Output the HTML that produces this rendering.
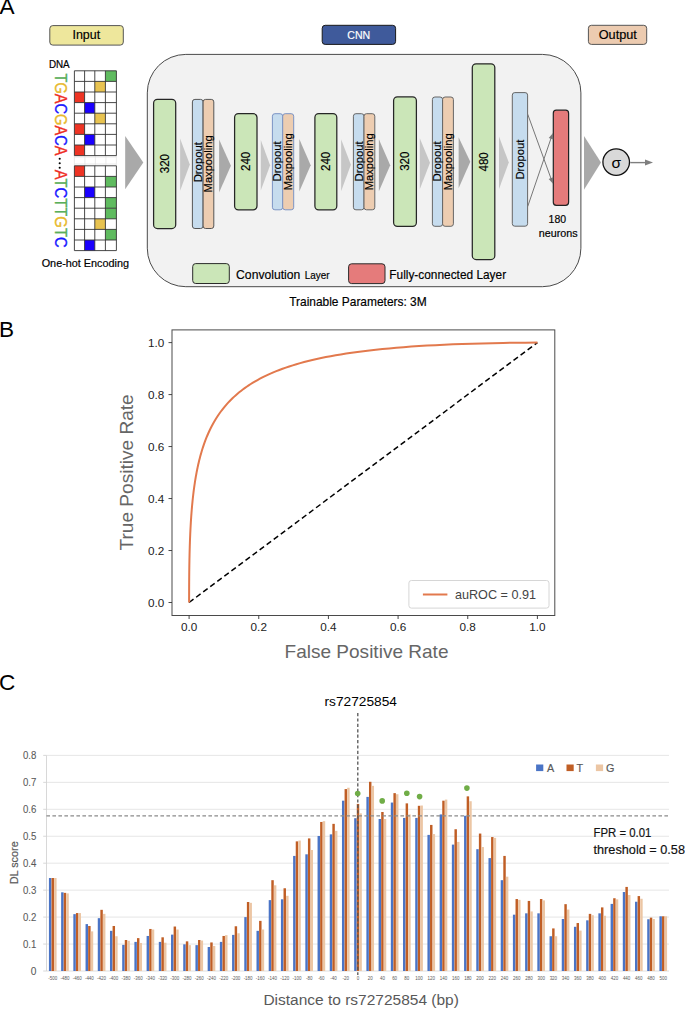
<!DOCTYPE html>
<html><head><meta charset="utf-8"><style>
html,body{margin:0;padding:0;background:#fff;}
body{width:685px;height:1009px;overflow:hidden;font-family:"Liberation Sans", sans-serif;}
svg{display:block;}
</style></head><body>
<svg width="685" height="1009" viewBox="0 0 685 1009" font-family='"Liberation Sans", sans-serif'>
<rect width="685" height="1009" fill="#fff"/>
<text x="-0.6" y="14" font-size="22.6" fill="#000" text-anchor="start" >A</text>
<rect x="49.8" y="25.6" width="73.5" height="19.5" rx="3" fill="#eee79c" stroke="#555" stroke-width="1"/>
<text x="86.3" y="39.4" font-size="12.6" fill="#000" text-anchor="middle" textLength="27.7" lengthAdjust="spacingAndGlyphs" stroke="#000" stroke-width="0.18" >Input</text>
<rect x="322.2" y="25.3" width="73.4" height="19.1" rx="3" fill="#3f5a9b" stroke="#1a1a1a" stroke-width="1"/>
<text x="358.7" y="39.0" font-size="11.5" fill="#fff" text-anchor="middle" textLength="22.9" lengthAdjust="spacingAndGlyphs" stroke="#fff" stroke-width="0.18" >CNN</text>
<rect x="588.4" y="25.3" width="58.3" height="19.1" rx="3" fill="#eccbb0" stroke="#555" stroke-width="1"/>
<text x="617.8" y="39.0" font-size="12" fill="#000" text-anchor="middle" textLength="38.1" lengthAdjust="spacingAndGlyphs" stroke="#000" stroke-width="0.18" >Output</text>
<text x="48.9" y="68.4" font-size="10.2" fill="#000" text-anchor="start" textLength="20.8" lengthAdjust="spacingAndGlyphs" stroke="#000" stroke-width="0.18" >DNA</text>
<g stroke="#e4e4e4" stroke-width="0.8"><line x1="74.40" y1="155.5" x2="74.40" y2="165.8"/><line x1="84.90" y1="155.5" x2="84.90" y2="165.8"/><line x1="95.40" y1="155.5" x2="95.40" y2="165.8"/><line x1="105.90" y1="155.5" x2="105.90" y2="165.8"/><line x1="116.40" y1="155.5" x2="116.40" y2="165.8"/><line x1="74.4" y1="157" x2="116.4" y2="157"/><line x1="74.4" y1="164" x2="116.4" y2="164"/></g>
<rect x="105.40" y="70.80" width="11.00" height="10.6" fill="#5fbb5f"/><rect x="94.80" y="81.40" width="10.60" height="10.6" fill="#e8c350"/><rect x="74.40" y="92.00" width="10.20" height="10.6" fill="#ee3424"/><rect x="84.60" y="102.60" width="10.20" height="10.6" fill="#1a00ff"/><rect x="94.80" y="113.20" width="10.60" height="10.6" fill="#e8c350"/><rect x="74.40" y="123.80" width="10.20" height="10.6" fill="#ee3424"/><rect x="84.60" y="134.40" width="10.20" height="10.6" fill="#1a00ff"/><rect x="74.40" y="145.00" width="10.20" height="10.6" fill="#ee3424"/><line x1="74.4" y1="70.80" x2="116.4" y2="70.80" stroke="#333" stroke-width="0.9"/><line x1="74.4" y1="81.40" x2="116.4" y2="81.40" stroke="#333" stroke-width="0.9"/><line x1="74.4" y1="92.00" x2="116.4" y2="92.00" stroke="#333" stroke-width="0.9"/><line x1="74.4" y1="102.60" x2="116.4" y2="102.60" stroke="#333" stroke-width="0.9"/><line x1="74.4" y1="113.20" x2="116.4" y2="113.20" stroke="#333" stroke-width="0.9"/><line x1="74.4" y1="123.80" x2="116.4" y2="123.80" stroke="#333" stroke-width="0.9"/><line x1="74.4" y1="134.40" x2="116.4" y2="134.40" stroke="#333" stroke-width="0.9"/><line x1="74.4" y1="145.00" x2="116.4" y2="145.00" stroke="#333" stroke-width="0.9"/><line x1="74.4" y1="155.60" x2="116.4" y2="155.60" stroke="#333" stroke-width="0.9"/><line x1="74.40" y1="70.8" x2="74.40" y2="155.60" stroke="#333" stroke-width="0.9"/><line x1="84.60" y1="70.8" x2="84.60" y2="155.60" stroke="#333" stroke-width="0.9"/><line x1="94.80" y1="70.8" x2="94.80" y2="155.60" stroke="#333" stroke-width="0.9"/><line x1="105.40" y1="70.8" x2="105.40" y2="155.60" stroke="#333" stroke-width="0.9"/><line x1="116.40" y1="70.8" x2="116.40" y2="155.60" stroke="#333" stroke-width="0.9"/>
<rect x="74.40" y="165.80" width="10.20" height="10.6" fill="#ee3424"/><rect x="105.40" y="176.40" width="11.00" height="10.6" fill="#5fbb5f"/><rect x="84.60" y="187.00" width="10.20" height="10.6" fill="#1a00ff"/><rect x="105.40" y="197.60" width="11.00" height="10.6" fill="#5fbb5f"/><rect x="105.40" y="208.20" width="11.00" height="10.6" fill="#5fbb5f"/><rect x="94.80" y="218.80" width="10.60" height="10.6" fill="#e8c350"/><rect x="105.40" y="229.40" width="11.00" height="10.6" fill="#5fbb5f"/><rect x="84.60" y="240.00" width="10.20" height="10.6" fill="#1a00ff"/><line x1="74.4" y1="165.80" x2="116.4" y2="165.80" stroke="#333" stroke-width="0.9"/><line x1="74.4" y1="176.40" x2="116.4" y2="176.40" stroke="#333" stroke-width="0.9"/><line x1="74.4" y1="187.00" x2="116.4" y2="187.00" stroke="#333" stroke-width="0.9"/><line x1="74.4" y1="197.60" x2="116.4" y2="197.60" stroke="#333" stroke-width="0.9"/><line x1="74.4" y1="208.20" x2="116.4" y2="208.20" stroke="#333" stroke-width="0.9"/><line x1="74.4" y1="218.80" x2="116.4" y2="218.80" stroke="#333" stroke-width="0.9"/><line x1="74.4" y1="229.40" x2="116.4" y2="229.40" stroke="#333" stroke-width="0.9"/><line x1="74.4" y1="240.00" x2="116.4" y2="240.00" stroke="#333" stroke-width="0.9"/><line x1="74.4" y1="250.60" x2="116.4" y2="250.60" stroke="#333" stroke-width="0.9"/><line x1="74.40" y1="165.8" x2="74.40" y2="250.60" stroke="#333" stroke-width="0.9"/><line x1="84.60" y1="165.8" x2="84.60" y2="250.60" stroke="#333" stroke-width="0.9"/><line x1="94.80" y1="165.8" x2="94.80" y2="250.60" stroke="#333" stroke-width="0.9"/><line x1="105.40" y1="165.8" x2="105.40" y2="250.60" stroke="#333" stroke-width="0.9"/><line x1="116.40" y1="165.8" x2="116.40" y2="250.60" stroke="#333" stroke-width="0.9"/>
<text transform="translate(55.0,73.5) rotate(90)" font-size="17.3" textLength="82.0" lengthAdjust="spacingAndGlyphs" stroke-width="0.35"><tspan fill="#5aaf5a" stroke="#5aaf5a">T</tspan><tspan fill="#e8b92c" stroke="#e8b92c">G</tspan><tspan fill="#ee2d24" stroke="#ee2d24">A</tspan><tspan fill="#1a1aff" stroke="#1a1aff">C</tspan><tspan fill="#e8b92c" stroke="#e8b92c">G</tspan><tspan fill="#ee2d24" stroke="#ee2d24">A</tspan><tspan fill="#1a1aff" stroke="#1a1aff">C</tspan><tspan fill="#ee2d24" stroke="#ee2d24">A</tspan></text>
<text transform="translate(55.0,169.7) rotate(90)" font-size="17.3" textLength="78.0" lengthAdjust="spacingAndGlyphs" stroke-width="0.35"><tspan fill="#ee2d24" stroke="#ee2d24">A</tspan><tspan fill="#5aaf5a" stroke="#5aaf5a">T</tspan><tspan fill="#1a1aff" stroke="#1a1aff">C</tspan><tspan fill="#5aaf5a" stroke="#5aaf5a">T</tspan><tspan fill="#5aaf5a" stroke="#5aaf5a">T</tspan><tspan fill="#e8b92c" stroke="#e8b92c">G</tspan><tspan fill="#5aaf5a" stroke="#5aaf5a">T</tspan><tspan fill="#1a1aff" stroke="#1a1aff">C</tspan></text>
<circle cx="59.7" cy="158.8" r="1.05" fill="#000"/>
<circle cx="59.7" cy="163.3" r="1.05" fill="#000"/>
<circle cx="59.7" cy="167.8" r="1.05" fill="#000"/>
<text x="41.7" y="267.3" font-size="10.3" fill="#000" text-anchor="start" textLength="87.3" lengthAdjust="spacingAndGlyphs" stroke="#000" stroke-width="0.18" >One-hot Encoding</text>
<polygon points="125.2,136 143.3,162.5 125.2,189.3" fill="#a9a9a9"/>
<rect x="147.3" y="54.4" width="433.6" height="232.3" rx="38.5" ry="38.5" fill="#f2f2f2" stroke="#4a4a4a" stroke-width="1"/>
<rect x="153.6" y="99.4" width="22.10" height="129.10" rx="3.8" fill="#cbe6b8" stroke="#262626" stroke-width="1.25"/>
<rect x="234.6" y="113.7" width="22.40" height="96.10" rx="3.8" fill="#cbe6b8" stroke="#262626" stroke-width="1.25"/>
<rect x="314.9" y="113.7" width="21.90" height="96.10" rx="3.8" fill="#cbe6b8" stroke="#262626" stroke-width="1.25"/>
<rect x="393.6" y="96.9" width="22.80" height="129.40" rx="3.8" fill="#cbe6b8" stroke="#262626" stroke-width="1.25"/>
<rect x="472.3" y="63.8" width="22.50" height="195.70" rx="3.8" fill="#cbe6b8" stroke="#262626" stroke-width="1.25"/>
<rect x="192.4" y="99.4" width="10.70" height="129.10" rx="2.5" fill="#c6dcee" stroke="#555" stroke-width="1"/>
<rect x="203.1" y="99.4" width="10.70" height="129.10" rx="2.5" fill="#edcdb1" stroke="#555" stroke-width="1"/>
<rect x="272.4" y="113.7" width="10.30" height="96.10" rx="2.5" fill="#c6dcee" stroke="#7b93c4" stroke-width="1"/>
<rect x="282.7" y="113.7" width="11.00" height="96.10" rx="2.5" fill="#edcdb1" stroke="#7b93c4" stroke-width="1"/>
<rect x="353.4" y="113.7" width="10.60" height="96.10" rx="2.5" fill="#c6dcee" stroke="#666" stroke-width="1"/>
<rect x="364.0" y="113.7" width="10.80" height="96.10" rx="2.5" fill="#edcdb1" stroke="#666" stroke-width="1"/>
<rect x="432.4" y="97.0" width="10.20" height="129.30" rx="2.5" fill="#c6dcee" stroke="#666" stroke-width="1"/>
<rect x="442.6" y="97.0" width="10.80" height="129.30" rx="2.5" fill="#edcdb1" stroke="#666" stroke-width="1"/>
<rect x="512.3" y="92.6" width="15.30" height="133.60" rx="2.5" fill="#c6dcee" stroke="#666" stroke-width="1"/>
<rect x="553.3" y="110.2" width="15.30" height="95.10" rx="3" fill="#e57b7b" stroke="#222" stroke-width="1.2"/>
<text transform="translate(164.6,163.6) rotate(-90)" x="0" y="0" dy="0.35em" font-size="12.6" fill="#000" text-anchor="middle" textLength="19.2" lengthAdjust="spacingAndGlyphs" stroke="#000" stroke-width="0.18">320</text>
<text transform="translate(245.8,161.4) rotate(-90)" x="0" y="0" dy="0.35em" font-size="12.6" fill="#000" text-anchor="middle" textLength="19.2" lengthAdjust="spacingAndGlyphs" stroke="#000" stroke-width="0.18">240</text>
<text transform="translate(325.9,161.4) rotate(-90)" x="0" y="0" dy="0.35em" font-size="12.6" fill="#000" text-anchor="middle" textLength="19.2" lengthAdjust="spacingAndGlyphs" stroke="#000" stroke-width="0.18">240</text>
<text transform="translate(405.0,161.2) rotate(-90)" x="0" y="0" dy="0.35em" font-size="12.6" fill="#000" text-anchor="middle" textLength="19.2" lengthAdjust="spacingAndGlyphs" stroke="#000" stroke-width="0.18">320</text>
<text transform="translate(483.5,161.9) rotate(-90)" x="0" y="0" dy="0.35em" font-size="12.6" fill="#000" text-anchor="middle" textLength="19.2" lengthAdjust="spacingAndGlyphs" stroke="#000" stroke-width="0.18">480</text>
<text transform="translate(197.8,162.2) rotate(-90)" x="0" y="0" dy="0.35em" font-size="11" fill="#000" text-anchor="middle" textLength="40.3" lengthAdjust="spacingAndGlyphs" stroke="#000" stroke-width="0.18">Dropout</text>
<text transform="translate(208.5,163.9) rotate(-90)" x="0" y="0" dy="0.35em" font-size="11" fill="#000" text-anchor="middle" textLength="57.0" lengthAdjust="spacingAndGlyphs" stroke="#000" stroke-width="0.18">Maxpooling</text>
<text transform="translate(277.6,161.4) rotate(-90)" x="0" y="0" dy="0.35em" font-size="11" fill="#000" text-anchor="middle" textLength="40.3" lengthAdjust="spacingAndGlyphs" stroke="#000" stroke-width="0.18">Dropout</text>
<text transform="translate(288.2,161.8) rotate(-90)" x="0" y="0" dy="0.35em" font-size="11" fill="#000" text-anchor="middle" textLength="57.0" lengthAdjust="spacingAndGlyphs" stroke="#000" stroke-width="0.18">Maxpooling</text>
<text transform="translate(358.7,161.4) rotate(-90)" x="0" y="0" dy="0.35em" font-size="11" fill="#000" text-anchor="middle" textLength="40.3" lengthAdjust="spacingAndGlyphs" stroke="#000" stroke-width="0.18">Dropout</text>
<text transform="translate(369.4,161.8) rotate(-90)" x="0" y="0" dy="0.35em" font-size="11" fill="#000" text-anchor="middle" textLength="57.0" lengthAdjust="spacingAndGlyphs" stroke="#000" stroke-width="0.18">Maxpooling</text>
<text transform="translate(437.5,161.4) rotate(-90)" x="0" y="0" dy="0.35em" font-size="11" fill="#000" text-anchor="middle" textLength="40.3" lengthAdjust="spacingAndGlyphs" stroke="#000" stroke-width="0.18">Dropout</text>
<text transform="translate(448.0,161.8) rotate(-90)" x="0" y="0" dy="0.35em" font-size="11" fill="#000" text-anchor="middle" textLength="57.0" lengthAdjust="spacingAndGlyphs" stroke="#000" stroke-width="0.18">Maxpooling</text>
<text transform="translate(520.0,159.6) rotate(-90)" x="0" y="0" dy="0.35em" font-size="11" fill="#000" text-anchor="middle" textLength="39.9" lengthAdjust="spacingAndGlyphs" stroke="#000" stroke-width="0.18">Dropout</text>
<polygon points="180.1,138.4 189.8,164.5 180.1,190.8" fill="#c6c6c6"/>
<polygon points="219.1,139.5 230.9,165.8 219.1,192.4" fill="#a9a9a9"/>
<polygon points="260.8,140.0 270.1,165.2 260.8,190.5" fill="#c6c6c6"/>
<polygon points="299.3,138.9 310.7,165.2 299.3,191.5" fill="#a9a9a9"/>
<polygon points="341.1,139.2 350.9,164.7 341.1,191.3" fill="#c6c6c6"/>
<polygon points="378.9,139.2 390.2,165.2 378.9,191.3" fill="#a9a9a9"/>
<polygon points="419.8,138.2 430.0,162.7 419.8,189.3" fill="#c6c6c6"/>
<polygon points="458.6,137.2 470.3,161.7 458.6,188.2" fill="#a9a9a9"/>
<polygon points="499.0,136.6 508.8,162.6 499.0,189.0" fill="#c6c6c6"/>
<g stroke="#777" stroke-width="1" fill="#777">
<line x1="527.7" y1="114.2" x2="551.6" y2="180.2"/><line x1="527.7" y1="206.5" x2="551.6" y2="136.6"/>
</g>
<polygon points="553.00,183.70 548.69,178.88 553.20,177.24" fill="#777"/>
<polygon points="553.00,133.00 553.32,139.45 548.78,137.89" fill="#777"/>
<text x="557.3" y="222.7" font-size="10.5" fill="#000" text-anchor="middle" textLength="17.5" lengthAdjust="spacingAndGlyphs" stroke="#000" stroke-width="0.18" >180</text>
<text x="558.2" y="236.7" font-size="10.5" fill="#000" text-anchor="middle" textLength="38.9" lengthAdjust="spacingAndGlyphs" stroke="#000" stroke-width="0.18" >neurons</text>
<polygon points="584.0,136.0 601.0,162.5 584.0,189.8" fill="#a9a9a9"/>
<circle cx="616.2" cy="162.1" r="13.3" fill="#d9d9d9" stroke="#111" stroke-width="1.3"/>
<text x="616.3" y="168.2" font-size="15.5" fill="#000" text-anchor="middle" >σ</text>
<line x1="630.2" y1="162.6" x2="647" y2="162.6" stroke="#7f7f7f" stroke-width="1.4"/>
<polygon points="653,162.6 645,159.6 645,165.6" fill="#7f7f7f"/>
<rect x="192.7" y="263.6" width="36.60" height="19.90" rx="3" fill="#cbe6b8" stroke="#2b2b2b" stroke-width="1"/>
<text x="236.1" y="278.9" font-size="13" fill="#000" text-anchor="start" textLength="64.2" lengthAdjust="spacingAndGlyphs" stroke="#000" stroke-width="0.18" >Convolution</text>
<text x="304.7" y="278.9" font-size="10.6" fill="#000" text-anchor="start" textLength="24.8" lengthAdjust="spacingAndGlyphs" stroke="#000" stroke-width="0.18" >Layer</text>
<rect x="348.6" y="263.8" width="36.40" height="19.80" rx="3" fill="#e57b7b" stroke="#2b2b2b" stroke-width="1"/>
<text x="389.3" y="279.0" font-size="13" fill="#000" text-anchor="start" textLength="116.8" lengthAdjust="spacingAndGlyphs" stroke="#000" stroke-width="0.18" >Fully-connected Layer</text>
<text x="289.2" y="306.1" font-size="12.2" fill="#000" text-anchor="start" textLength="137.5" lengthAdjust="spacingAndGlyphs" stroke="#000" stroke-width="0.18" >Trainable Parameters: 3M</text>
<text x="-0.9" y="336.6" font-size="22.6" fill="#000" text-anchor="start" >B</text>
<line x1="189.1" y1="602.5" x2="537.4" y2="342.6" stroke="#000" stroke-width="1.5" stroke-dasharray="5.5,3.3"/>
<polyline points="189.10,602.50 189.10,600.79 189.10,600.76 189.10,600.73 189.10,600.69 189.10,600.66 189.10,600.63 189.10,600.59 189.10,600.56 189.10,600.53 189.10,600.49 189.10,600.45 189.10,600.42 189.10,600.38 189.10,600.34 189.10,600.30 189.10,600.27 189.10,600.23 189.10,600.19 189.10,600.14 189.10,600.10 189.10,600.06 189.10,600.02 189.10,599.97 189.10,599.93 189.10,599.88 189.10,599.84 189.10,599.79 189.10,599.74 189.10,599.69 189.10,599.64 189.10,599.59 189.10,599.54 189.10,599.49 189.10,599.44 189.10,599.38 189.10,599.33 189.10,599.27 189.10,599.22 189.10,599.16 189.10,599.10 189.10,599.04 189.10,598.98 189.10,598.92 189.10,598.86 189.10,598.80 189.10,598.73 189.10,598.67 189.10,598.60 189.10,598.53 189.10,598.46 189.10,598.39 189.10,598.32 189.10,598.25 189.10,598.18 189.10,598.10 189.10,598.03 189.10,597.95 189.10,597.87 189.10,597.79 189.10,597.71 189.10,597.63 189.10,597.55 189.10,597.46 189.10,597.38 189.10,597.29 189.10,597.20 189.10,597.11 189.10,597.02 189.10,596.92 189.10,596.83 189.10,596.73 189.10,596.63 189.10,596.54 189.10,596.43 189.10,596.33 189.10,596.23 189.10,596.12 189.11,596.01 189.11,595.90 189.11,595.79 189.11,595.68 189.11,595.57 189.11,595.45 189.11,595.33 189.11,595.21 189.11,595.09 189.11,594.97 189.11,594.84 189.11,594.71 189.11,594.58 189.11,594.45 189.11,594.32 189.11,594.18 189.11,594.04 189.11,593.90 189.11,593.76 189.11,593.62 189.11,593.47 189.11,593.32 189.11,593.17 189.11,593.02 189.11,592.86 189.11,592.70 189.11,592.54 189.11,592.38 189.11,592.21 189.11,592.04 189.11,591.87 189.11,591.70 189.12,591.52 189.12,591.35 189.12,591.16 189.12,590.98 189.12,590.79 189.12,590.60 189.12,590.41 189.12,590.22 189.12,590.02 189.12,589.82 189.12,589.61 189.12,589.41 189.12,589.20 189.12,588.98 189.12,588.77 189.13,588.55 189.13,588.32 189.13,588.10 189.13,587.87 189.13,587.64 189.13,587.40 189.13,587.16 189.13,586.92 189.13,586.67 189.13,586.42 189.14,586.17 189.14,585.91 189.14,585.65 189.14,585.38 189.14,585.11 189.14,584.84 189.14,584.57 189.15,584.29 189.15,584.00 189.15,583.71 189.15,583.42 189.15,583.12 189.15,582.82 189.16,582.52 189.16,582.21 189.16,581.90 189.16,581.58 189.16,581.26 189.17,580.93 189.17,580.60 189.17,580.26 189.17,579.92 189.18,579.58 189.18,579.23 189.18,578.87 189.19,578.51 189.19,578.15 189.19,577.78 189.20,577.41 189.20,577.03 189.20,576.64 189.21,576.25 189.21,575.86 189.21,575.46 189.22,575.05 189.22,574.64 189.23,574.23 189.23,573.80 189.23,573.38 189.24,572.94 189.24,572.50 189.25,572.06 189.25,571.61 189.26,571.16 189.27,570.69 189.27,570.23 189.28,569.75 189.28,569.27 189.29,568.79 189.30,568.29 189.30,567.80 189.31,567.29 189.32,566.78 189.33,566.26 189.33,565.74 189.34,565.21 189.35,564.67 189.36,564.13 189.37,563.58 189.38,563.02 189.39,562.46 189.40,561.89 189.41,561.31 189.42,560.72 189.43,560.13 189.44,559.53 189.45,558.93 189.47,558.31 189.48,557.69 189.49,557.07 189.51,556.43 189.52,555.79 189.54,555.14 189.55,554.48 189.57,553.81 189.58,553.14 189.60,552.46 189.62,551.77 189.64,551.07 189.66,550.37 189.68,549.66 189.70,548.94 189.72,548.21 189.74,547.47 189.76,546.73 189.78,545.97 189.81,545.21 189.83,544.44 189.86,543.66 189.89,542.88 189.91,542.08 189.94,541.28 189.97,540.47 190.00,539.65 190.03,538.82 190.07,537.98 190.10,537.13 190.14,536.28 190.17,535.41 190.21,534.54 190.25,533.66 190.29,532.77 190.33,531.87 190.38,530.96 190.42,530.04 190.47,529.12 190.52,528.18 190.57,527.24 190.62,526.28 190.67,525.32 190.73,524.35 190.78,523.37 190.84,522.38 190.90,521.38 190.97,520.37 191.03,519.35 191.10,518.32 191.17,517.29 191.24,516.24 191.32,515.19 191.40,514.12 191.48,513.05 191.56,511.97 191.65,510.88 191.74,509.78 191.83,508.67 191.93,507.55 192.03,506.42 192.13,505.28 192.24,504.13 192.35,502.98 192.46,501.81 192.58,500.64 192.71,499.46 192.83,498.27 192.96,497.07 193.10,495.86 193.24,494.64 193.39,493.41 193.54,492.17 193.69,490.93 193.86,489.68 194.02,488.41 194.20,487.14 194.38,485.87 194.56,484.58 194.76,483.28 194.95,481.98 195.16,480.67 195.37,479.35 195.60,478.02 195.82,476.69 196.06,475.35 196.31,473.99 196.56,472.64 196.82,471.27 197.10,469.90 197.38,468.52 197.67,467.14 197.97,465.74 198.28,464.34 198.61,462.94 198.94,461.53 199.29,460.11 199.65,458.68 200.02,457.25 200.40,455.82 200.80,454.38 201.21,452.93 201.64,451.48 202.08,450.02 202.54,448.56 203.01,447.10 203.50,445.63 204.01,444.15 204.54,442.68 205.08,441.20 205.64,439.71 206.23,438.22 206.83,436.73 207.46,435.24 208.10,433.75 208.77,432.25 209.46,430.75 210.18,429.25 210.92,427.75 211.69,426.25 212.49,424.75 213.31,423.25 214.17,421.75 215.05,420.25 215.96,418.75 216.91,417.25 217.89,415.75 218.90,414.26 219.95,412.76 221.04,411.27 222.17,409.78 223.33,408.30 224.54,406.82 225.79,405.35 227.08,403.87 228.42,402.41 229.80,400.95 231.24,399.49 232.72,398.05 234.26,396.61 235.85,395.17 237.50,393.75 239.20,392.33 240.97,390.92 242.79,389.52 244.69,388.13 246.64,386.75 248.67,385.38 250.77,384.02 252.94,382.67 255.19,381.34 257.52,380.02 259.93,378.71 262.43,377.41 265.01,376.13 267.68,374.87 270.45,373.62 273.32,372.38 276.29,371.17 279.36,369.97 282.54,368.78 285.83,367.62 289.24,366.47 292.77,365.35 296.42,364.24 300.20,363.15 304.11,362.09 308.17,361.04 312.36,360.02 316.70,359.02 321.20,358.05 325.85,357.10 330.67,356.17 335.66,355.27 340.82,354.39 346.17,353.54 351.70,352.72 357.43,351.92 363.36,351.16 369.50,350.42 375.86,349.71 382.44,349.03 389.25,348.38 396.30,347.76 403.60,347.17 411.16,346.62 418.98,346.09 427.08,345.60 435.46,345.14 444.14,344.72 453.13,344.33 462.43,343.98 472.06,343.66 482.03,343.38 492.35,343.14 503.04,342.94 514.10,342.78 525.55,342.66 537.40,342.60" fill="none" stroke="#e2794d" stroke-width="2"/>
<rect x="172.0" y="329.9" width="382.8" height="285.6" fill="none" stroke="#4a4a4a" stroke-width="1"/>
<line x1="168.5" y1="602.50" x2="172" y2="602.50" stroke="#333" stroke-width="0.9"/>
<line x1="189.10" y1="615.5" x2="189.10" y2="619" stroke="#333" stroke-width="0.9"/>
<text x="164.2" y="606.6" font-size="10.3" fill="#222" text-anchor="end" textLength="16.3" lengthAdjust="spacingAndGlyphs" >0.0</text>
<text x="189.1" y="631.2" font-size="10.3" fill="#222" text-anchor="middle" textLength="16.3" lengthAdjust="spacingAndGlyphs" >0.0</text>
<line x1="168.5" y1="550.52" x2="172" y2="550.52" stroke="#333" stroke-width="0.9"/>
<line x1="258.76" y1="615.5" x2="258.76" y2="619" stroke="#333" stroke-width="0.9"/>
<text x="164.2" y="554.62" font-size="10.3" fill="#222" text-anchor="end" textLength="16.3" lengthAdjust="spacingAndGlyphs" >0.2</text>
<text x="258.76" y="631.2" font-size="10.3" fill="#222" text-anchor="middle" textLength="16.3" lengthAdjust="spacingAndGlyphs" >0.2</text>
<line x1="168.5" y1="498.54" x2="172" y2="498.54" stroke="#333" stroke-width="0.9"/>
<line x1="328.42" y1="615.5" x2="328.42" y2="619" stroke="#333" stroke-width="0.9"/>
<text x="164.2" y="502.64000000000004" font-size="10.3" fill="#222" text-anchor="end" textLength="16.3" lengthAdjust="spacingAndGlyphs" >0.4</text>
<text x="328.42" y="631.2" font-size="10.3" fill="#222" text-anchor="middle" textLength="16.3" lengthAdjust="spacingAndGlyphs" >0.4</text>
<line x1="168.5" y1="446.56" x2="172" y2="446.56" stroke="#333" stroke-width="0.9"/>
<line x1="398.08" y1="615.5" x2="398.08" y2="619" stroke="#333" stroke-width="0.9"/>
<text x="164.2" y="450.66" font-size="10.3" fill="#222" text-anchor="end" textLength="16.3" lengthAdjust="spacingAndGlyphs" >0.6</text>
<text x="398.08000000000004" y="631.2" font-size="10.3" fill="#222" text-anchor="middle" textLength="16.3" lengthAdjust="spacingAndGlyphs" >0.6</text>
<line x1="168.5" y1="394.58" x2="172" y2="394.58" stroke="#333" stroke-width="0.9"/>
<line x1="467.74" y1="615.5" x2="467.74" y2="619" stroke="#333" stroke-width="0.9"/>
<text x="164.2" y="398.68000000000006" font-size="10.3" fill="#222" text-anchor="end" textLength="16.3" lengthAdjust="spacingAndGlyphs" >0.8</text>
<text x="467.74" y="631.2" font-size="10.3" fill="#222" text-anchor="middle" textLength="16.3" lengthAdjust="spacingAndGlyphs" >0.8</text>
<line x1="168.5" y1="342.60" x2="172" y2="342.60" stroke="#333" stroke-width="0.9"/>
<line x1="537.40" y1="615.5" x2="537.40" y2="619" stroke="#333" stroke-width="0.9"/>
<text x="164.2" y="346.70000000000005" font-size="10.3" fill="#222" text-anchor="end" textLength="16.3" lengthAdjust="spacingAndGlyphs" >1.0</text>
<text x="537.4" y="631.2" font-size="10.3" fill="#222" text-anchor="middle" textLength="16.3" lengthAdjust="spacingAndGlyphs" >1.0</text>
<text x="366.5" y="658.0" font-size="19" fill="#666" text-anchor="middle" textLength="164" lengthAdjust="spacingAndGlyphs" >False Positive Rate</text>
<text transform="translate(133.0,472.4) rotate(-90)" x="0" y="0" dy="0em" font-size="19" fill="#666" text-anchor="middle" textLength="156.2" lengthAdjust="spacingAndGlyphs">True Positive Rate</text>
<rect x="408.9" y="580.5" width="140.1" height="27.6" rx="2.5" fill="#fff" fill-opacity="0.8" stroke="#d6d6d6" stroke-width="1"/>
<line x1="422.9" y1="594.5" x2="447.4" y2="594.5" stroke="#e2794d" stroke-width="2"/>
<text x="454.9" y="598.8" font-size="12.6" fill="#444" text-anchor="start" textLength="81.1" lengthAdjust="spacingAndGlyphs" >auROC = 0.91</text>
<text x="-1.1" y="689.9" font-size="22.6" fill="#000" text-anchor="start" >C</text>
<text x="360.7" y="705.8" font-size="13.6" fill="#000" text-anchor="middle" textLength="72.4" lengthAdjust="spacingAndGlyphs" >rs72725854</text>
<line x1="46.4" y1="944.05" x2="669" y2="944.05" stroke="#e3e3e3" stroke-width="0.9"/>
<line x1="46.4" y1="917.10" x2="669" y2="917.10" stroke="#e3e3e3" stroke-width="0.9"/>
<line x1="46.4" y1="890.15" x2="669" y2="890.15" stroke="#e3e3e3" stroke-width="0.9"/>
<line x1="46.4" y1="863.20" x2="669" y2="863.20" stroke="#e3e3e3" stroke-width="0.9"/>
<line x1="46.4" y1="836.25" x2="669" y2="836.25" stroke="#e3e3e3" stroke-width="0.9"/>
<line x1="46.4" y1="809.30" x2="669" y2="809.30" stroke="#e3e3e3" stroke-width="0.9"/>
<line x1="46.4" y1="782.35" x2="669" y2="782.35" stroke="#e3e3e3" stroke-width="0.9"/>
<line x1="46.4" y1="755.40" x2="669" y2="755.40" stroke="#e3e3e3" stroke-width="0.9"/>
<line x1="46.4" y1="971.0" x2="669" y2="971.0" stroke="#dadada" stroke-width="0.9"/>
<line x1="46.5" y1="755.40" x2="46.5" y2="971.0" stroke="#d4d4d4" stroke-width="0.9"/>
<line x1="43.2" y1="971.00" x2="46.5" y2="971.00" stroke="#d4d4d4" stroke-width="0.9"/>
<text x="36.3" y="974.6" font-size="10.2" fill="#595959" text-anchor="end" stroke="#595959" stroke-width="0.08" >0</text>
<line x1="43.2" y1="944.05" x2="46.5" y2="944.05" stroke="#d4d4d4" stroke-width="0.9"/>
<text x="36.3" y="947.65" font-size="10.2" fill="#595959" text-anchor="end" textLength="13.4" lengthAdjust="spacingAndGlyphs" stroke="#595959" stroke-width="0.08" >0.1</text>
<line x1="43.2" y1="917.10" x2="46.5" y2="917.10" stroke="#d4d4d4" stroke-width="0.9"/>
<text x="36.3" y="920.7" font-size="10.2" fill="#595959" text-anchor="end" textLength="13.4" lengthAdjust="spacingAndGlyphs" stroke="#595959" stroke-width="0.08" >0.2</text>
<line x1="43.2" y1="890.15" x2="46.5" y2="890.15" stroke="#d4d4d4" stroke-width="0.9"/>
<text x="36.3" y="893.75" font-size="10.2" fill="#595959" text-anchor="end" textLength="13.4" lengthAdjust="spacingAndGlyphs" stroke="#595959" stroke-width="0.08" >0.3</text>
<line x1="43.2" y1="863.20" x2="46.5" y2="863.20" stroke="#d4d4d4" stroke-width="0.9"/>
<text x="36.3" y="866.8000000000001" font-size="10.2" fill="#595959" text-anchor="end" textLength="13.4" lengthAdjust="spacingAndGlyphs" stroke="#595959" stroke-width="0.08" >0.4</text>
<line x1="43.2" y1="836.25" x2="46.5" y2="836.25" stroke="#d4d4d4" stroke-width="0.9"/>
<text x="36.3" y="839.85" font-size="10.2" fill="#595959" text-anchor="end" textLength="13.4" lengthAdjust="spacingAndGlyphs" stroke="#595959" stroke-width="0.08" >0.5</text>
<line x1="43.2" y1="809.30" x2="46.5" y2="809.30" stroke="#d4d4d4" stroke-width="0.9"/>
<text x="36.3" y="812.9" font-size="10.2" fill="#595959" text-anchor="end" textLength="13.4" lengthAdjust="spacingAndGlyphs" stroke="#595959" stroke-width="0.08" >0.6</text>
<line x1="43.2" y1="782.35" x2="46.5" y2="782.35" stroke="#d4d4d4" stroke-width="0.9"/>
<text x="36.3" y="785.95" font-size="10.2" fill="#595959" text-anchor="end" textLength="13.4" lengthAdjust="spacingAndGlyphs" stroke="#595959" stroke-width="0.08" >0.7</text>
<line x1="43.2" y1="755.40" x2="46.5" y2="755.40" stroke="#d4d4d4" stroke-width="0.9"/>
<text x="36.3" y="759.0" font-size="10.2" fill="#595959" text-anchor="end" textLength="13.4" lengthAdjust="spacingAndGlyphs" stroke="#595959" stroke-width="0.08" >0.8</text>
<rect x="48.93" y="878.02" width="2.45" height="92.98" fill="#4a74c6"/>
<rect x="51.53" y="878.02" width="2.45" height="92.98" fill="#c05e25"/>
<rect x="54.13" y="878.02" width="2.45" height="92.98" fill="#ecc6a4"/>
<text x="52.75" y="979.8" font-size="5.6" fill="#595959" text-anchor="middle" textLength="8.96" lengthAdjust="spacingAndGlyphs" >-500</text>
<rect x="61.14" y="892.31" width="2.45" height="78.69" fill="#4a74c6"/>
<rect x="63.74" y="892.85" width="2.45" height="78.15" fill="#c05e25"/>
<rect x="66.34" y="893.38" width="2.45" height="77.62" fill="#ecc6a4"/>
<text x="64.96" y="979.8" font-size="5.6" fill="#595959" text-anchor="middle" textLength="8.96" lengthAdjust="spacingAndGlyphs" >-480</text>
<rect x="73.34" y="914.14" width="2.45" height="56.86" fill="#4a74c6"/>
<rect x="75.94" y="913.06" width="2.45" height="57.94" fill="#c05e25"/>
<rect x="78.55" y="913.06" width="2.45" height="57.94" fill="#ecc6a4"/>
<text x="77.17" y="979.8" font-size="5.6" fill="#595959" text-anchor="middle" textLength="8.96" lengthAdjust="spacingAndGlyphs" >-460</text>
<rect x="85.55" y="924.11" width="2.45" height="46.89" fill="#4a74c6"/>
<rect x="88.15" y="925.99" width="2.45" height="45.01" fill="#c05e25"/>
<rect x="90.75" y="931.38" width="2.45" height="39.62" fill="#ecc6a4"/>
<text x="89.38" y="979.8" font-size="5.6" fill="#595959" text-anchor="middle" textLength="8.96" lengthAdjust="spacingAndGlyphs" >-440</text>
<rect x="97.77" y="918.18" width="2.45" height="52.82" fill="#4a74c6"/>
<rect x="100.36" y="909.82" width="2.45" height="61.18" fill="#c05e25"/>
<rect x="102.97" y="913.87" width="2.45" height="57.13" fill="#ecc6a4"/>
<text x="101.59" y="979.8" font-size="5.6" fill="#595959" text-anchor="middle" textLength="8.96" lengthAdjust="spacingAndGlyphs" >-420</text>
<rect x="109.98" y="930.84" width="2.45" height="40.16" fill="#4a74c6"/>
<rect x="112.58" y="925.99" width="2.45" height="45.01" fill="#c05e25"/>
<rect x="115.18" y="936.23" width="2.45" height="34.77" fill="#ecc6a4"/>
<text x="113.80" y="979.8" font-size="5.6" fill="#595959" text-anchor="middle" textLength="8.96" lengthAdjust="spacingAndGlyphs" >-400</text>
<rect x="122.19" y="944.86" width="2.45" height="26.14" fill="#4a74c6"/>
<rect x="124.78" y="940.01" width="2.45" height="30.99" fill="#c05e25"/>
<rect x="127.39" y="940.82" width="2.45" height="30.18" fill="#ecc6a4"/>
<text x="126.01" y="979.8" font-size="5.6" fill="#595959" text-anchor="middle" textLength="8.96" lengthAdjust="spacingAndGlyphs" >-380</text>
<rect x="134.39" y="941.89" width="2.45" height="29.11" fill="#4a74c6"/>
<rect x="136.99" y="938.12" width="2.45" height="32.88" fill="#c05e25"/>
<rect x="139.59" y="942.97" width="2.45" height="28.03" fill="#ecc6a4"/>
<text x="138.22" y="979.8" font-size="5.6" fill="#595959" text-anchor="middle" textLength="8.96" lengthAdjust="spacingAndGlyphs" >-360</text>
<rect x="146.60" y="935.97" width="2.45" height="35.03" fill="#4a74c6"/>
<rect x="149.20" y="928.96" width="2.45" height="42.04" fill="#c05e25"/>
<rect x="151.80" y="929.50" width="2.45" height="41.50" fill="#ecc6a4"/>
<text x="150.43" y="979.8" font-size="5.6" fill="#595959" text-anchor="middle" textLength="8.96" lengthAdjust="spacingAndGlyphs" >-340</text>
<rect x="158.81" y="941.89" width="2.45" height="29.11" fill="#4a74c6"/>
<rect x="161.41" y="937.31" width="2.45" height="33.69" fill="#c05e25"/>
<rect x="164.01" y="942.70" width="2.45" height="28.30" fill="#ecc6a4"/>
<text x="162.64" y="979.8" font-size="5.6" fill="#595959" text-anchor="middle" textLength="8.96" lengthAdjust="spacingAndGlyphs" >-320</text>
<rect x="171.03" y="934.62" width="2.45" height="36.38" fill="#4a74c6"/>
<rect x="173.62" y="926.53" width="2.45" height="44.47" fill="#c05e25"/>
<rect x="176.22" y="929.50" width="2.45" height="41.50" fill="#ecc6a4"/>
<text x="174.85" y="979.8" font-size="5.6" fill="#595959" text-anchor="middle" textLength="8.96" lengthAdjust="spacingAndGlyphs" >-300</text>
<rect x="183.23" y="944.32" width="2.45" height="26.68" fill="#4a74c6"/>
<rect x="185.83" y="941.36" width="2.45" height="29.64" fill="#c05e25"/>
<rect x="188.43" y="945.13" width="2.45" height="25.87" fill="#ecc6a4"/>
<text x="187.06" y="979.8" font-size="5.6" fill="#595959" text-anchor="middle" textLength="8.96" lengthAdjust="spacingAndGlyphs" >-280</text>
<rect x="195.44" y="945.13" width="2.45" height="25.87" fill="#4a74c6"/>
<rect x="198.04" y="940.01" width="2.45" height="30.99" fill="#c05e25"/>
<rect x="200.64" y="940.55" width="2.45" height="30.45" fill="#ecc6a4"/>
<text x="199.27" y="979.8" font-size="5.6" fill="#595959" text-anchor="middle" textLength="8.96" lengthAdjust="spacingAndGlyphs" >-260</text>
<rect x="207.66" y="947.01" width="2.45" height="23.99" fill="#4a74c6"/>
<rect x="210.25" y="942.43" width="2.45" height="28.57" fill="#c05e25"/>
<rect x="212.85" y="945.94" width="2.45" height="25.06" fill="#ecc6a4"/>
<text x="211.48" y="979.8" font-size="5.6" fill="#595959" text-anchor="middle" textLength="8.96" lengthAdjust="spacingAndGlyphs" >-240</text>
<rect x="219.86" y="941.89" width="2.45" height="29.11" fill="#4a74c6"/>
<rect x="222.46" y="935.97" width="2.45" height="35.03" fill="#c05e25"/>
<rect x="225.06" y="935.16" width="2.45" height="35.84" fill="#ecc6a4"/>
<text x="223.69" y="979.8" font-size="5.6" fill="#595959" text-anchor="middle" textLength="8.96" lengthAdjust="spacingAndGlyphs" >-220</text>
<rect x="232.07" y="934.89" width="2.45" height="36.11" fill="#4a74c6"/>
<rect x="234.67" y="926.26" width="2.45" height="44.74" fill="#c05e25"/>
<rect x="237.27" y="933.27" width="2.45" height="37.73" fill="#ecc6a4"/>
<text x="235.90" y="979.8" font-size="5.6" fill="#595959" text-anchor="middle" textLength="8.96" lengthAdjust="spacingAndGlyphs" >-200</text>
<rect x="244.28" y="917.10" width="2.45" height="53.90" fill="#4a74c6"/>
<rect x="246.88" y="902.01" width="2.45" height="68.99" fill="#c05e25"/>
<rect x="249.48" y="902.82" width="2.45" height="68.18" fill="#ecc6a4"/>
<text x="248.11" y="979.8" font-size="5.6" fill="#595959" text-anchor="middle" textLength="8.96" lengthAdjust="spacingAndGlyphs" >-180</text>
<rect x="256.50" y="930.84" width="2.45" height="40.16" fill="#4a74c6"/>
<rect x="259.10" y="920.87" width="2.45" height="50.13" fill="#c05e25"/>
<rect x="261.70" y="929.50" width="2.45" height="41.50" fill="#ecc6a4"/>
<text x="260.32" y="979.8" font-size="5.6" fill="#595959" text-anchor="middle" textLength="8.96" lengthAdjust="spacingAndGlyphs" >-160</text>
<rect x="268.71" y="900.12" width="2.45" height="70.88" fill="#4a74c6"/>
<rect x="271.31" y="880.18" width="2.45" height="90.82" fill="#c05e25"/>
<rect x="273.91" y="885.30" width="2.45" height="85.70" fill="#ecc6a4"/>
<text x="272.53" y="979.8" font-size="5.6" fill="#595959" text-anchor="middle" textLength="8.96" lengthAdjust="spacingAndGlyphs" >-140</text>
<rect x="280.92" y="899.31" width="2.45" height="71.69" fill="#4a74c6"/>
<rect x="283.52" y="888.26" width="2.45" height="82.74" fill="#c05e25"/>
<rect x="286.12" y="895.81" width="2.45" height="75.19" fill="#ecc6a4"/>
<text x="284.74" y="979.8" font-size="5.6" fill="#595959" text-anchor="middle" textLength="8.96" lengthAdjust="spacingAndGlyphs" >-120</text>
<rect x="293.13" y="855.92" width="2.45" height="115.08" fill="#4a74c6"/>
<rect x="295.73" y="841.37" width="2.45" height="129.63" fill="#c05e25"/>
<rect x="298.33" y="840.56" width="2.45" height="130.44" fill="#ecc6a4"/>
<text x="296.95" y="979.8" font-size="5.6" fill="#595959" text-anchor="middle" textLength="8.96" lengthAdjust="spacingAndGlyphs" >-100</text>
<rect x="305.34" y="854.31" width="2.45" height="116.69" fill="#4a74c6"/>
<rect x="307.94" y="838.41" width="2.45" height="132.59" fill="#c05e25"/>
<rect x="310.54" y="849.99" width="2.45" height="121.01" fill="#ecc6a4"/>
<text x="309.16" y="979.8" font-size="5.6" fill="#595959" text-anchor="middle" textLength="6.47" lengthAdjust="spacingAndGlyphs" >-80</text>
<rect x="317.55" y="835.98" width="2.45" height="135.02" fill="#4a74c6"/>
<rect x="320.15" y="821.97" width="2.45" height="149.03" fill="#c05e25"/>
<rect x="322.75" y="821.16" width="2.45" height="149.84" fill="#ecc6a4"/>
<text x="321.37" y="979.8" font-size="5.6" fill="#595959" text-anchor="middle" textLength="6.47" lengthAdjust="spacingAndGlyphs" >-60</text>
<rect x="329.76" y="834.36" width="2.45" height="136.64" fill="#4a74c6"/>
<rect x="332.36" y="823.85" width="2.45" height="147.15" fill="#c05e25"/>
<rect x="334.96" y="830.86" width="2.45" height="140.14" fill="#ecc6a4"/>
<text x="333.58" y="979.8" font-size="5.6" fill="#595959" text-anchor="middle" textLength="6.47" lengthAdjust="spacingAndGlyphs" >-40</text>
<rect x="341.97" y="800.68" width="2.45" height="170.32" fill="#4a74c6"/>
<rect x="344.57" y="789.09" width="2.45" height="181.91" fill="#c05e25"/>
<rect x="347.17" y="787.74" width="2.45" height="183.26" fill="#ecc6a4"/>
<text x="345.79" y="979.8" font-size="5.6" fill="#595959" text-anchor="middle" textLength="6.47" lengthAdjust="spacingAndGlyphs" >-20</text>
<rect x="354.18" y="818.19" width="2.45" height="152.81" fill="#4a74c6"/>
<rect x="356.78" y="803.91" width="2.45" height="167.09" fill="#c05e25"/>
<rect x="359.38" y="813.34" width="2.45" height="157.66" fill="#ecc6a4"/>
<text x="358.00" y="979.8" font-size="5.6" fill="#595959" text-anchor="middle" textLength="2.49" lengthAdjust="spacingAndGlyphs" >0</text>
<rect x="366.39" y="796.90" width="2.45" height="174.10" fill="#4a74c6"/>
<rect x="368.99" y="781.81" width="2.45" height="189.19" fill="#c05e25"/>
<rect x="371.59" y="785.85" width="2.45" height="185.15" fill="#ecc6a4"/>
<text x="370.21" y="979.8" font-size="5.6" fill="#595959" text-anchor="middle" textLength="4.98" lengthAdjust="spacingAndGlyphs" >20</text>
<rect x="378.60" y="819.00" width="2.45" height="152.00" fill="#4a74c6"/>
<rect x="381.20" y="812.00" width="2.45" height="159.00" fill="#c05e25"/>
<rect x="383.80" y="819.00" width="2.45" height="152.00" fill="#ecc6a4"/>
<text x="382.42" y="979.8" font-size="5.6" fill="#595959" text-anchor="middle" textLength="4.98" lengthAdjust="spacingAndGlyphs" >40</text>
<rect x="390.81" y="802.56" width="2.45" height="168.44" fill="#4a74c6"/>
<rect x="393.41" y="793.13" width="2.45" height="177.87" fill="#c05e25"/>
<rect x="396.00" y="794.21" width="2.45" height="176.79" fill="#ecc6a4"/>
<text x="394.63" y="979.8" font-size="5.6" fill="#595959" text-anchor="middle" textLength="4.98" lengthAdjust="spacingAndGlyphs" >60</text>
<rect x="403.02" y="817.92" width="2.45" height="153.08" fill="#4a74c6"/>
<rect x="405.62" y="803.37" width="2.45" height="167.63" fill="#c05e25"/>
<rect x="408.22" y="814.42" width="2.45" height="156.58" fill="#ecc6a4"/>
<text x="406.84" y="979.8" font-size="5.6" fill="#595959" text-anchor="middle" textLength="4.98" lengthAdjust="spacingAndGlyphs" >80</text>
<rect x="415.23" y="817.92" width="2.45" height="153.08" fill="#4a74c6"/>
<rect x="417.83" y="805.80" width="2.45" height="165.20" fill="#c05e25"/>
<rect x="420.43" y="805.53" width="2.45" height="165.47" fill="#ecc6a4"/>
<text x="419.05" y="979.8" font-size="5.6" fill="#595959" text-anchor="middle" textLength="7.47" lengthAdjust="spacingAndGlyphs" >100</text>
<rect x="427.44" y="834.90" width="2.45" height="136.10" fill="#4a74c6"/>
<rect x="430.04" y="824.93" width="2.45" height="146.07" fill="#c05e25"/>
<rect x="432.64" y="834.09" width="2.45" height="136.91" fill="#ecc6a4"/>
<text x="431.26" y="979.8" font-size="5.6" fill="#595959" text-anchor="middle" textLength="7.47" lengthAdjust="spacingAndGlyphs" >120</text>
<rect x="439.65" y="814.42" width="2.45" height="156.58" fill="#4a74c6"/>
<rect x="442.25" y="800.68" width="2.45" height="170.32" fill="#c05e25"/>
<rect x="444.85" y="799.60" width="2.45" height="171.40" fill="#ecc6a4"/>
<text x="443.47" y="979.8" font-size="5.6" fill="#595959" text-anchor="middle" textLength="7.47" lengthAdjust="spacingAndGlyphs" >140</text>
<rect x="451.86" y="844.60" width="2.45" height="126.40" fill="#4a74c6"/>
<rect x="454.46" y="829.24" width="2.45" height="141.76" fill="#c05e25"/>
<rect x="457.06" y="841.91" width="2.45" height="129.09" fill="#ecc6a4"/>
<text x="455.68" y="979.8" font-size="5.6" fill="#595959" text-anchor="middle" textLength="7.47" lengthAdjust="spacingAndGlyphs" >160</text>
<rect x="464.07" y="815.77" width="2.45" height="155.23" fill="#4a74c6"/>
<rect x="466.67" y="796.36" width="2.45" height="174.64" fill="#c05e25"/>
<rect x="469.27" y="801.22" width="2.45" height="169.78" fill="#ecc6a4"/>
<text x="467.89" y="979.8" font-size="5.6" fill="#595959" text-anchor="middle" textLength="7.47" lengthAdjust="spacingAndGlyphs" >180</text>
<rect x="476.28" y="849.19" width="2.45" height="121.81" fill="#4a74c6"/>
<rect x="478.88" y="833.56" width="2.45" height="137.44" fill="#c05e25"/>
<rect x="481.48" y="847.03" width="2.45" height="123.97" fill="#ecc6a4"/>
<text x="480.10" y="979.8" font-size="5.6" fill="#595959" text-anchor="middle" textLength="7.47" lengthAdjust="spacingAndGlyphs" >200</text>
<rect x="488.49" y="858.08" width="2.45" height="112.92" fill="#4a74c6"/>
<rect x="491.09" y="837.06" width="2.45" height="133.94" fill="#c05e25"/>
<rect x="493.69" y="837.87" width="2.45" height="133.13" fill="#ecc6a4"/>
<text x="492.31" y="979.8" font-size="5.6" fill="#595959" text-anchor="middle" textLength="7.47" lengthAdjust="spacingAndGlyphs" >220</text>
<rect x="500.70" y="880.18" width="2.45" height="90.82" fill="#4a74c6"/>
<rect x="503.30" y="855.92" width="2.45" height="115.08" fill="#c05e25"/>
<rect x="505.90" y="876.67" width="2.45" height="94.33" fill="#ecc6a4"/>
<text x="504.52" y="979.8" font-size="5.6" fill="#595959" text-anchor="middle" textLength="7.47" lengthAdjust="spacingAndGlyphs" >240</text>
<rect x="512.91" y="914.67" width="2.45" height="56.33" fill="#4a74c6"/>
<rect x="515.51" y="899.04" width="2.45" height="71.96" fill="#c05e25"/>
<rect x="518.11" y="899.85" width="2.45" height="71.15" fill="#ecc6a4"/>
<text x="516.73" y="979.8" font-size="5.6" fill="#595959" text-anchor="middle" textLength="7.47" lengthAdjust="spacingAndGlyphs" >260</text>
<rect x="525.12" y="913.33" width="2.45" height="57.67" fill="#4a74c6"/>
<rect x="527.72" y="900.93" width="2.45" height="70.07" fill="#c05e25"/>
<rect x="530.32" y="911.44" width="2.45" height="59.56" fill="#ecc6a4"/>
<text x="528.94" y="979.8" font-size="5.6" fill="#595959" text-anchor="middle" textLength="7.47" lengthAdjust="spacingAndGlyphs" >280</text>
<rect x="537.33" y="913.33" width="2.45" height="57.67" fill="#4a74c6"/>
<rect x="539.93" y="899.04" width="2.45" height="71.96" fill="#c05e25"/>
<rect x="542.53" y="900.39" width="2.45" height="70.61" fill="#ecc6a4"/>
<text x="541.15" y="979.8" font-size="5.6" fill="#595959" text-anchor="middle" textLength="7.47" lengthAdjust="spacingAndGlyphs" >300</text>
<rect x="549.54" y="936.23" width="2.45" height="34.77" fill="#4a74c6"/>
<rect x="552.14" y="928.42" width="2.45" height="42.58" fill="#c05e25"/>
<rect x="554.74" y="936.23" width="2.45" height="34.77" fill="#ecc6a4"/>
<text x="553.36" y="979.8" font-size="5.6" fill="#595959" text-anchor="middle" textLength="7.47" lengthAdjust="spacingAndGlyphs" >320</text>
<rect x="561.75" y="918.99" width="2.45" height="52.01" fill="#4a74c6"/>
<rect x="564.35" y="904.16" width="2.45" height="66.84" fill="#c05e25"/>
<rect x="566.95" y="909.55" width="2.45" height="61.45" fill="#ecc6a4"/>
<text x="565.57" y="979.8" font-size="5.6" fill="#595959" text-anchor="middle" textLength="7.47" lengthAdjust="spacingAndGlyphs" >340</text>
<rect x="573.96" y="926.80" width="2.45" height="44.20" fill="#4a74c6"/>
<rect x="576.56" y="923.03" width="2.45" height="47.97" fill="#c05e25"/>
<rect x="579.16" y="930.58" width="2.45" height="40.42" fill="#ecc6a4"/>
<text x="577.78" y="979.8" font-size="5.6" fill="#595959" text-anchor="middle" textLength="7.47" lengthAdjust="spacingAndGlyphs" >360</text>
<rect x="586.17" y="920.33" width="2.45" height="50.67" fill="#4a74c6"/>
<rect x="588.77" y="913.87" width="2.45" height="57.13" fill="#c05e25"/>
<rect x="591.37" y="915.21" width="2.45" height="55.79" fill="#ecc6a4"/>
<text x="589.99" y="979.8" font-size="5.6" fill="#595959" text-anchor="middle" textLength="7.47" lengthAdjust="spacingAndGlyphs" >380</text>
<rect x="598.38" y="913.33" width="2.45" height="57.67" fill="#4a74c6"/>
<rect x="600.98" y="907.40" width="2.45" height="63.60" fill="#c05e25"/>
<rect x="603.58" y="915.75" width="2.45" height="55.25" fill="#ecc6a4"/>
<text x="602.20" y="979.8" font-size="5.6" fill="#595959" text-anchor="middle" textLength="7.47" lengthAdjust="spacingAndGlyphs" >400</text>
<rect x="610.59" y="903.89" width="2.45" height="67.11" fill="#4a74c6"/>
<rect x="613.19" y="898.24" width="2.45" height="72.76" fill="#c05e25"/>
<rect x="615.79" y="899.31" width="2.45" height="71.69" fill="#ecc6a4"/>
<text x="614.41" y="979.8" font-size="5.6" fill="#595959" text-anchor="middle" textLength="7.47" lengthAdjust="spacingAndGlyphs" >420</text>
<rect x="622.80" y="892.04" width="2.45" height="78.96" fill="#4a74c6"/>
<rect x="625.40" y="886.92" width="2.45" height="84.08" fill="#c05e25"/>
<rect x="628.00" y="895.00" width="2.45" height="76.00" fill="#ecc6a4"/>
<text x="626.62" y="979.8" font-size="5.6" fill="#595959" text-anchor="middle" textLength="7.47" lengthAdjust="spacingAndGlyphs" >440</text>
<rect x="635.01" y="901.74" width="2.45" height="69.26" fill="#4a74c6"/>
<rect x="637.61" y="896.08" width="2.45" height="74.92" fill="#c05e25"/>
<rect x="640.21" y="898.77" width="2.45" height="72.23" fill="#ecc6a4"/>
<text x="638.83" y="979.8" font-size="5.6" fill="#595959" text-anchor="middle" textLength="7.47" lengthAdjust="spacingAndGlyphs" >460</text>
<rect x="647.22" y="919.26" width="2.45" height="51.74" fill="#4a74c6"/>
<rect x="649.82" y="917.64" width="2.45" height="53.36" fill="#c05e25"/>
<rect x="652.42" y="918.99" width="2.45" height="52.01" fill="#ecc6a4"/>
<text x="651.04" y="979.8" font-size="5.6" fill="#595959" text-anchor="middle" textLength="7.47" lengthAdjust="spacingAndGlyphs" >480</text>
<rect x="659.43" y="916.29" width="2.45" height="54.71" fill="#4a74c6"/>
<rect x="662.03" y="916.29" width="2.45" height="54.71" fill="#c05e25"/>
<rect x="664.63" y="916.29" width="2.45" height="54.71" fill="#ecc6a4"/>
<text x="663.25" y="979.8" font-size="5.6" fill="#595959" text-anchor="middle" textLength="7.47" lengthAdjust="spacingAndGlyphs" >500</text>
<line x1="46.4" y1="815.8" x2="668" y2="815.8" stroke="#8a8a8a" stroke-width="1.3" stroke-dasharray="3.6,2.4"/>
<line x1="357.8" y1="713" x2="357.8" y2="975" stroke="#555" stroke-width="1.3" stroke-dasharray="3.2,2.2"/>
<circle cx="357.7" cy="793.5" r="2.8" fill="#70ad47"/>
<circle cx="382.2" cy="800.9" r="2.8" fill="#70ad47"/>
<circle cx="406.8" cy="793.2" r="2.8" fill="#70ad47"/>
<circle cx="419.6" cy="796.6" r="2.8" fill="#70ad47"/>
<circle cx="466.9" cy="788.1" r="2.8" fill="#70ad47"/>
<rect x="536.1" y="764.5" width="7.2" height="6.6" fill="#4a74c6"/>
<text x="547.0" y="771.7" font-size="10.8" fill="#595959" text-anchor="start" stroke="#595959" stroke-width="0.18" >A</text>
<rect x="566.5" y="764.5" width="7.2" height="6.6" fill="#c05e25"/>
<text x="576.6" y="771.7" font-size="10.8" fill="#595959" text-anchor="start" stroke="#595959" stroke-width="0.18" >T</text>
<rect x="595.9" y="764.5" width="7.2" height="6.6" fill="#ecc6a4"/>
<text x="606.0" y="771.7" font-size="10.8" fill="#595959" text-anchor="start" stroke="#595959" stroke-width="0.18" >G</text>
<text x="593.5" y="836.7" font-size="12.7" fill="#111" text-anchor="start" textLength="57.8" lengthAdjust="spacingAndGlyphs" stroke="#111" stroke-width="0.18" >FPR = 0.01</text>
<text x="593.5" y="853.6" font-size="12.7" fill="#111" text-anchor="start" textLength="91.5" lengthAdjust="spacingAndGlyphs" stroke="#111" stroke-width="0.18" >threshold = 0.58</text>
<text transform="translate(18.4,862.8) rotate(-90)" x="0" y="0" dy="0em" font-size="11.6" fill="#595959" text-anchor="middle" textLength="43.0" lengthAdjust="spacingAndGlyphs" stroke="#595959" stroke-width="0.18">DL score</text>
<text x="263.4" y="1005.2" font-size="15.5" fill="#595959" text-anchor="start" textLength="195.5" lengthAdjust="spacingAndGlyphs" >Distance to rs72725854 (bp)</text>
</svg>
</body></html>
